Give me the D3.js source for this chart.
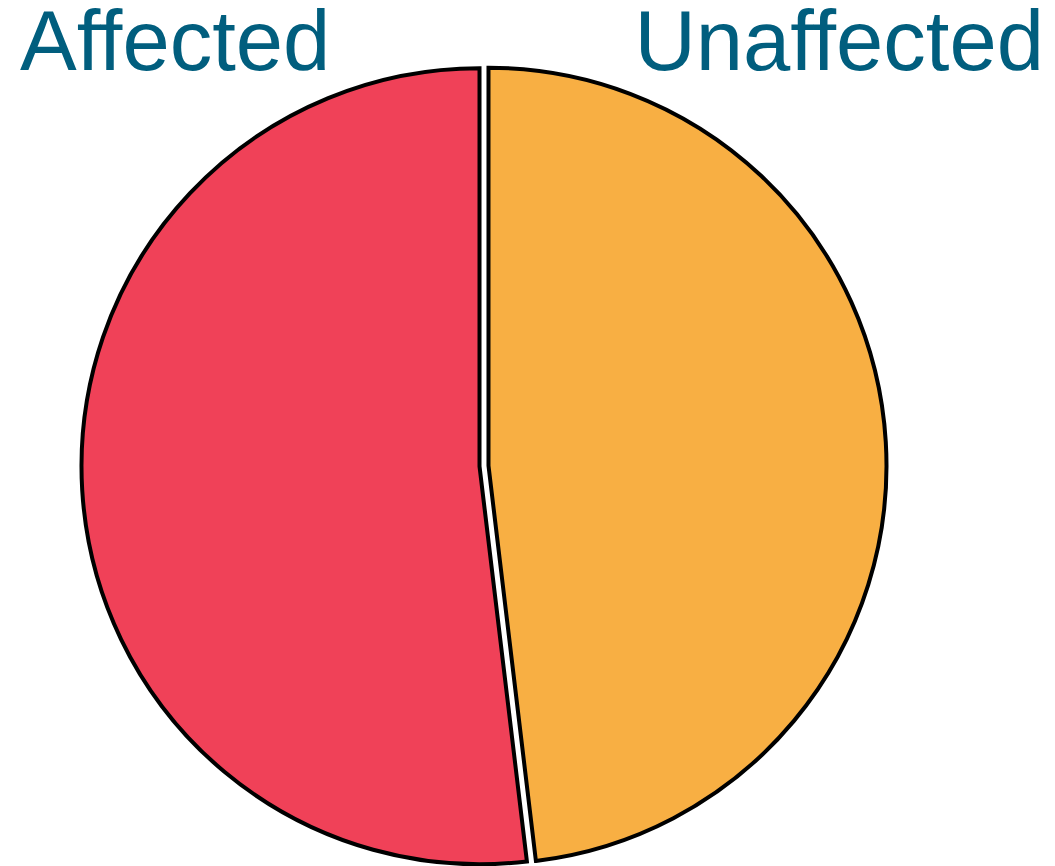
<!DOCTYPE html>
<html>
<head>
<meta charset="utf-8">
<script src="https://cdn.jsdelivr.net/npm/d3@7"></script>
<style>
  html, body { margin: 0; padding: 0; background: #fff; }
  svg { display: block; }
</style>
</head>
<body>
<svg id="chart" width="1055" height="866"></svg>
<script>
// Data (order as drawn clockwise from 12 o'clock)
const categories = ["Unaffected", "Affected"];
const values = [48.1, 51.9];
const colors = ["#f8af43", "#f04158"];

const svg = d3.select("#chart");
const cx = 484, cy = 466, r = 398, explode = 4.5;

const pie = d3.pie().sort(null).value(d => d.value);
const arc = d3.arc().innerRadius(0).outerRadius(r);
const data = categories.map((c, i) => ({ name: c, value: values[i], color: colors[i] }));

const g = svg.append("g").attr("transform", `translate(${cx},${cy})`);
g.selectAll("path")
  .data(pie(data))
  .join("path")
  .attr("d", arc)
  .attr("transform", d => {
    const a = (d.startAngle + d.endAngle) / 2;
    return `translate(${Math.sin(a) * explode},${-Math.cos(a) * explode})`;
  })
  .attr("fill", d => d.data.color)
  .attr("stroke", "#000")
  .attr("stroke-width", 4)
  .attr("stroke-linejoin", "miter");

// Labels
svg.append("text")
  .attr("x", 20).attr("y", 70)
  .attr("font-family", "Liberation Sans, Arial, sans-serif")
  .attr("font-size", 85)
  .attr("fill", "#015e7e")
  .text("Affected");

svg.append("text")
  .attr("x", 1044).attr("y", 70)
  .attr("text-anchor", "end")
  .attr("font-family", "Liberation Sans, Arial, sans-serif")
  .attr("font-size", 85)
  .attr("fill", "#015e7e")
  .text("Unaffected");
</script>
</body>
</html>
